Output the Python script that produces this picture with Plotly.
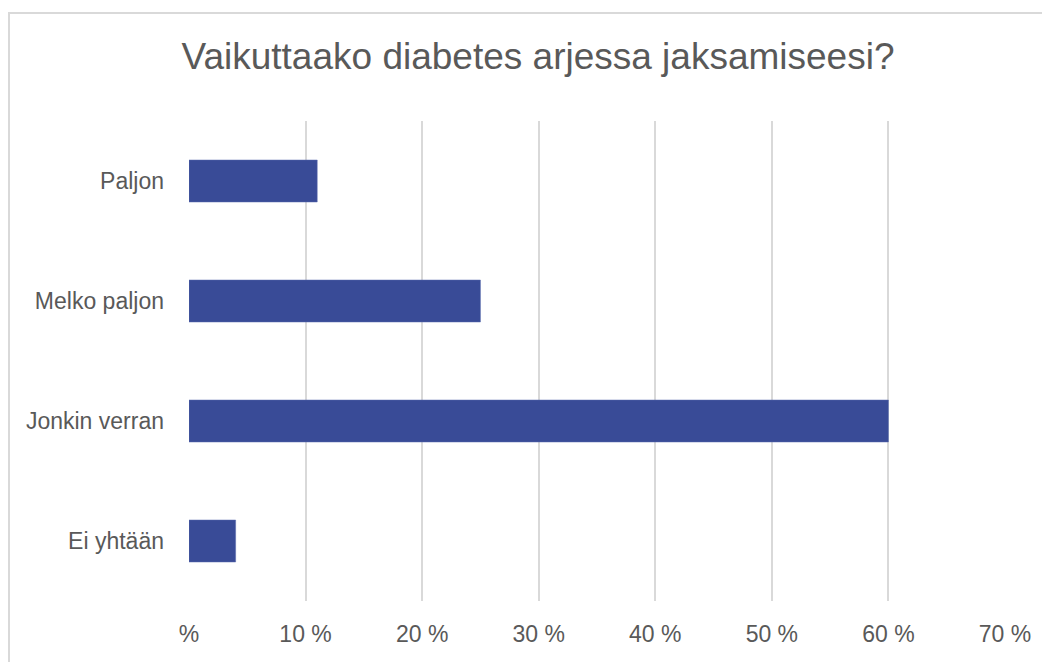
import plotly.graph_objects as go

categories = ["Paljon", "Melko paljon", "Jonkin verran", "Ei yhtään"]
values = [11, 25, 60, 4]
tick_vals = [0, 10, 20, 30, 40, 50, 60, 70]
tick_text = ["%", "10 %", "20 %", "30 %", "40 %", "50 %", "60 %", "70 %"]
title_text = "Vaikuttaako diabetes arjessa jaksamiseesi?"

W, H = 1050, 662
OFF = 8  # page body margin
FONT = "Liberation Sans, Arial, sans-serif"
TXT = "#595959"

L, R, T, B = 189 - OFF, W - (1005 - OFF), 121 - OFF, H - (601 - OFF)
PW, PH = W - L - R, H - T - B

fig = go.Figure(go.Bar(
    x=values, y=categories, orientation="h",
    marker=dict(color="#394B97", line=dict(color="#5a6aad", width=0.5)),
    hoverinfo="x+y",
))

fig.update_layout(
    width=W, height=H,
    paper_bgcolor="white", plot_bgcolor="white",
    margin=dict(l=L, r=R, t=T, b=B, autoexpand=False),
    bargap=0.65,
    showlegend=False,
    font=dict(family=FONT, color=TXT, size=23),
    title=dict(
        text=title_text, x=(538 - OFF) / W, xanchor="center", xref="container",
        y=1 - (56 - OFF) / H, yanchor="middle", yref="container",
        font=dict(family=FONT, size=37, color=TXT),
    ),
    xaxis=dict(
        range=[0, 70], tickvals=tick_vals, ticktext=tick_text,
        showgrid=True, gridcolor="#d9d9d9", gridwidth=2,
        zeroline=False, showline=False, ticks="",
        tickfont=dict(family=FONT, size=23, color=TXT),
        ticklabelstandoff=17, fixedrange=True,
    ),
    yaxis=dict(
        autorange="reversed", showgrid=False, zeroline=False, showline=False,
        ticks="", tickfont=dict(family=FONT, size=23, color=TXT),
        ticklabelstandoff=24, fixedrange=True,
    ),
    shapes=[dict(
        type="rect", xref="paper", yref="paper",
        x0=(1 - L) / PW, x1=1.2,
        y0=-0.3, y1=(H - (13 - OFF) - B) / PH,
        line=dict(color="#d9d9d9", width=2), fillcolor="rgba(0,0,0,0)",
        layer="below",
    )],
)

fig.write_html("out.html")
